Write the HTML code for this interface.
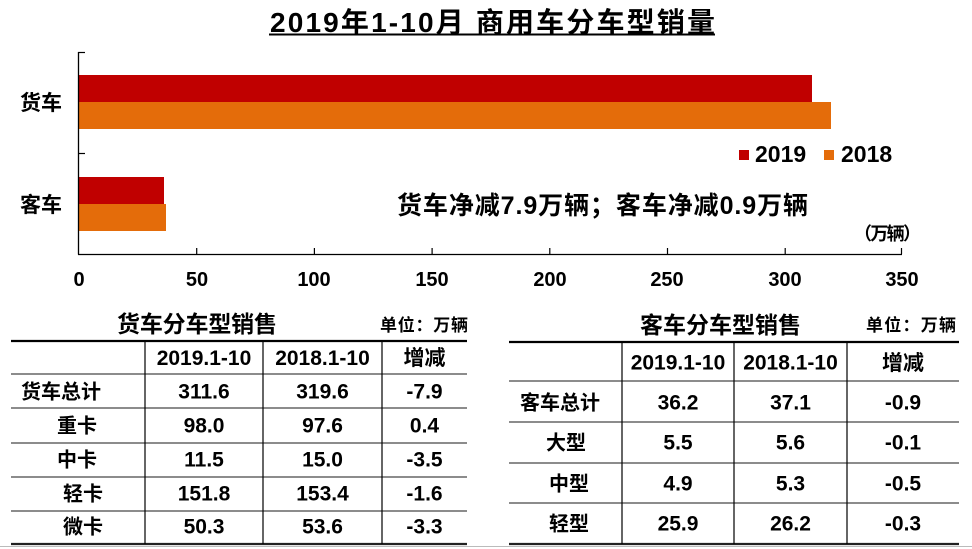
<!DOCTYPE html>
<html>
<head>
<meta charset="utf-8">
<style>
html,body{margin:0;padding:0;background:#fff;}
svg{display:block;}
text{font-family:"Liberation Sans","Noto Sans CJK SC",sans-serif;font-weight:bold;fill:#000;}
</style>
</head>
<body>
<svg width="972" height="549" viewBox="0 0 972 549" xmlns="http://www.w3.org/2000/svg">
<rect width="972" height="549" fill="#fff"/>
<!-- Title -->
<text x="270" y="32" font-size="28" textLength="445" lengthAdjust="spacing">2019年1-10月 商用车分车型销量</text>
<line x1="269" y1="34.5" x2="715" y2="34.5" stroke="#000" stroke-width="2"/>

<!-- Bars -->
<rect x="79" y="75" width="733" height="27" fill="#C00000"/>
<rect x="79" y="102" width="752" height="27" fill="#E46C0A"/>
<rect x="79" y="177" width="85" height="27" fill="#C00000"/>
<rect x="79" y="204" width="87" height="27" fill="#E46C0A"/>

<!-- Axes -->
<line x1="78.5" y1="52" x2="78.5" y2="254.5" stroke="#000" stroke-width="1.3"/>
<line x1="78" y1="254.5" x2="902" y2="254.5" stroke="#000" stroke-width="1.3"/>
<line x1="78" y1="52.5" x2="85" y2="52.5" stroke="#000" stroke-width="1.2"/>
<line x1="78" y1="153.5" x2="85" y2="153.5" stroke="#000" stroke-width="1.2"/>
<g stroke="#000" stroke-width="1.2">
<line x1="196.7" y1="248" x2="196.7" y2="254"/>
<line x1="314.4" y1="248" x2="314.4" y2="254"/>
<line x1="432.1" y1="248" x2="432.1" y2="254"/>
<line x1="549.8" y1="248" x2="549.8" y2="254"/>
<line x1="667.5" y1="248" x2="667.5" y2="254"/>
<line x1="785.2" y1="248" x2="785.2" y2="254"/>
<line x1="901.5" y1="248" x2="901.5" y2="254"/>
</g>
<g font-size="20" text-anchor="middle">
<text x="79" y="286">0</text>
<text x="197" y="286">50</text>
<text x="314" y="286">100</text>
<text x="432" y="286">150</text>
<text x="550" y="286">200</text>
<text x="667" y="286">250</text>
<text x="785" y="286">300</text>
<text x="902" y="286">350</text>
</g>

<!-- Category labels -->
<text x="20" y="110" font-size="21">货车</text>
<text x="20" y="212" font-size="21">客车</text>

<!-- Legend -->
<rect x="739" y="150" width="10" height="10" fill="#C00000"/>
<text x="755" y="162" font-size="23">2019</text>
<rect x="824" y="150" width="10" height="10" fill="#E46C0A"/>
<text x="841" y="162" font-size="23">2018</text>

<!-- Annotation -->
<text x="397" y="214" font-size="25" textLength="411" lengthAdjust="spacing">货车净减7.9万辆；客车净减0.9万辆</text>
<text x="854" y="240" font-size="18" textLength="67" lengthAdjust="spacing">（万辆）</text>

<!-- faint bottom line -->
<line x1="0" y1="546.5" x2="972" y2="546.5" stroke="#bbb" stroke-width="1"/>

<!-- Left table -->
<text x="117" y="332" font-size="23" textLength="160" lengthAdjust="spacing">货车分车型销售</text>
<text x="380" y="331" font-size="17" textLength="88" lengthAdjust="spacing">单位：万辆</text>
<line x1="11" y1="341" x2="467" y2="341" stroke="#000" stroke-width="2.2"/>
<g stroke="#666" stroke-width="1.5">
<line x1="11" y1="374" x2="467" y2="374"/>
<line x1="11" y1="408" x2="467" y2="408"/>
<line x1="11" y1="443" x2="467" y2="443"/>
<line x1="11" y1="477" x2="467" y2="477"/>
<line x1="11" y1="511" x2="467" y2="511"/>
</g>
<line x1="11" y1="544" x2="467" y2="544" stroke="#222" stroke-width="2.2"/>
<g stroke="#000" stroke-width="1.2">
<line x1="145" y1="341" x2="145" y2="544"/>
<line x1="263" y1="341" x2="263" y2="544"/>
<line x1="382" y1="341" x2="382" y2="544"/>
</g>
<g font-size="21" text-anchor="middle">
<text x="204" y="365">2019.1-10</text>
<text x="322.5" y="365">2018.1-10</text>
<text x="424.5" y="365">增减</text>

<text x="204" y="398.5">311.6</text>
<text x="322.5" y="398.5">319.6</text>
<text x="424.5" y="398.5">-7.9</text>

<text x="204" y="432.5">98.0</text>
<text x="322.5" y="432.5">97.6</text>
<text x="424.5" y="432.5">0.4</text>

<text x="204" y="466.5">11.5</text>
<text x="322.5" y="466.5">15.0</text>
<text x="424.5" y="466.5">-3.5</text>

<text x="204" y="500.5">151.8</text>
<text x="322.5" y="500.5">153.4</text>
<text x="424.5" y="500.5">-1.6</text>

<text x="204" y="533.5">50.3</text>
<text x="322.5" y="533.5">53.6</text>
<text x="424.5" y="533.5">-3.3</text>
</g>
<g font-size="20" text-anchor="middle">
<text x="61" y="398.5">货车总计</text>
<text x="77" y="432.5">重卡</text>
<text x="77" y="466.5">中卡</text>
<text x="83" y="500.5">轻卡</text>
<text x="83" y="533.5">微卡</text>
</g>

<!-- Right table -->
<text x="640" y="333" font-size="23" textLength="161" lengthAdjust="spacing">客车分车型销售</text>
<text x="866" y="331" font-size="17" textLength="90" lengthAdjust="spacing">单位：万辆</text>
<line x1="509" y1="342" x2="959" y2="342" stroke="#000" stroke-width="2.2"/>
<g stroke="#666" stroke-width="1.5">
<line x1="509" y1="381" x2="959" y2="381"/>
<line x1="509" y1="422" x2="959" y2="422"/>
<line x1="509" y1="463" x2="959" y2="463"/>
<line x1="509" y1="503" x2="959" y2="503"/>
</g>
<line x1="509" y1="544" x2="959" y2="544" stroke="#222" stroke-width="2.2"/>
<g stroke="#000" stroke-width="1.2">
<line x1="622" y1="342" x2="622" y2="544"/>
<line x1="734" y1="342" x2="734" y2="544"/>
<line x1="847" y1="342" x2="847" y2="544"/>
</g>
<g font-size="21" text-anchor="middle">
<text x="678" y="369.5">2019.1-10</text>
<text x="790.5" y="369.5">2018.1-10</text>
<text x="903" y="370">增减</text>

<text x="678" y="409.5">36.2</text>
<text x="790.5" y="409.5">37.1</text>
<text x="903" y="409.5">-0.9</text>

<text x="678" y="449.5">5.5</text>
<text x="790.5" y="449.5">5.6</text>
<text x="903" y="449.5">-0.1</text>

<text x="678" y="490.5">4.9</text>
<text x="790.5" y="490.5">5.3</text>
<text x="903" y="490.5">-0.5</text>

<text x="678" y="530.5">25.9</text>
<text x="790.5" y="530.5">26.2</text>
<text x="903" y="530.5">-0.3</text>
</g>
<g font-size="20" text-anchor="middle">
<text x="560" y="409.5">客车总计</text>
<text x="566" y="449.5">大型</text>
<text x="569" y="490.5">中型</text>
<text x="569" y="530.5">轻型</text>
</g>
</svg>
</body>
</html>
